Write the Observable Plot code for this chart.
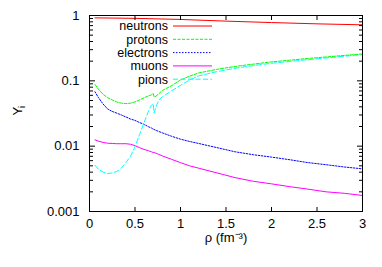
<!DOCTYPE html>
<html><head><meta charset="utf-8">
<script src="https://cdn.jsdelivr.net/npm/d3@7"></script>
<script src="https://cdn.jsdelivr.net/npm/@observablehq/plot@0.6"></script>
<style>body{margin:0;background:#fff;} #chart svg{display:block;}</style>
</head><body><div id="chart"></div>
<script>
// density grid (fm^-3)
const rho = [0.06,0.1,0.15,0.2,0.25,0.3,0.35,0.4,0.45,0.5,0.55,0.6,0.65,0.68,0.7,0.71,0.73,0.76,0.8,0.9,1.0,1.1,1.2,1.4,1.6,1.8,2.0,2.2,2.4,2.6,2.8,3.0];
const protons   = [0.088,0.074,0.062,0.055,0.051,0.0475,0.0455,0.0448,0.0455,0.0475,0.051,0.055,0.059,0.061,0.064,0.057,0.058,0.063,0.071,0.084,0.103,0.118,0.132,0.150,0.166,0.180,0.195,0.207,0.220,0.232,0.245,0.258];
const electrons = [0.068,0.055,0.044,0.037,0.034,0.032,0.030,0.028,0.026,0.0248,0.023,0.0215,0.0198,0.019,0.0182,0.018,0.0175,0.0168,0.016,0.0142,0.0128,0.0118,0.0110,0.0095,0.0082,0.0074,0.0068,0.0062,0.0056,0.0052,0.0048,0.0045];
const muons     = [0.0125,0.0119,0.0114,0.0111,0.0110,0.0109,0.0109,0.0109,0.0107,0.0102,0.0095,0.0089,0.0085,0.0082,0.0080,0.0080,0.0078,0.0075,0.0071,0.0063,0.0056,0.0050,0.0046,0.0039,0.0033,0.0029,0.00265,0.0024,0.0022,0.0020,0.0019,0.00176];
const pions     = [0.0051,0.0044,0.0040,0.0038,0.0039,0.0041,0.0046,0.0056,0.0070,0.0098,0.0150,0.023,0.035,0.042,0.045,0.032,0.040,0.050,0.057,0.070,0.085,0.103,0.119,0.138,0.156,0.171,0.186,0.198,0.211,0.224,0.238,0.252];
const rhoN = [0.06,0.5,1.0,1.5,2.0,2.5,3.0];
const neutrons = [0.92,0.905,0.87,0.82,0.78,0.745,0.72];

const seriesNames = ["neutrons","protons","electrons","muons","pions"];
const xTicks = [0,0.5,1,1.5,2,2.5,3];
const xTickLabels = ["0","0.5","1","1.5","2","2.5","3"];
const yTicks = [0.001,0.01,0.1,1];
const yTickLabels = ["0.001","0.01","0.1","1"];
const minorMult = [2,3,4,5,6,7,8,9];

const W = 382, H = 267, mL = 89, mR = 20, mT = 15, mB = 56;
const innerW = W - mL - mR, innerH = H - mT - mB;

const styles = {
  neutrons:  {color: "#ff0000", dash: null},
  protons:   {color: "#00ff00", dash: "3,1.5"},
  electrons: {color: "#0000ff", dash: "1.5,1.5"},
  muons:     {color: "#ff00ff", dash: null},
  pions:     {color: "#00ffff", dash: "5,2.5"}
};
const seriesData = {
  neutrons: rhoN.map((x, i) => ({x, y: neutrons[i]})),
  protons: rho.map((x, i) => ({x, y: protons[i]})),
  electrons: rho.map((x, i) => ({x, y: electrons[i]})),
  muons: rho.map((x, i) => ({x, y: muons[i]})),
  pions: rho.map((x, i) => ({x, y: pions[i]}))
};
const yMinor = yTicks.slice(0, -1).flatMap(d => minorMult.map(m => d * m));
const noText = () => "";

const lineOrder = ["muons","electrons","pions","protons","neutrons"];
const plot = Plot.plot({
  width: W, height: H,
  marginLeft: mL, marginRight: mR, marginTop: mT, marginBottom: mB,
  style: {fontFamily: "'Liberation Sans', Arial, sans-serif", fontSize: "13px", color: "#000", background: "#fff"},
  x: {domain: [0, 3]},
  y: {type: "log", domain: [0.001, 1]},
  marks: [
    ...lineOrder.map(n => Plot.line(seriesData[n], {x: "x", y: "y", stroke: styles[n].color, strokeWidth: 1, strokeDasharray: styles[n].dash || undefined})),
    // inward ticks: bottom & top
    Plot.axisX(xTicks, {anchor: "top", tickSize: 5, tickFormat: noText, label: null, dy: innerH, stroke: "#000"}),
    Plot.axisX(xTicks, {anchor: "bottom", tickSize: 5, tickFormat: noText, label: null, dy: -innerH, stroke: "#000"}),
    // inward ticks: left & right (major and minor)
    Plot.axisY(yTicks, {anchor: "right", tickSize: 5, tickFormat: noText, label: null, dx: -innerW, stroke: "#000"}),
    Plot.axisY(yMinor, {anchor: "right", tickSize: 3, tickFormat: noText, label: null, dx: -innerW, stroke: "#000"}),
    Plot.axisY(yTicks, {anchor: "left", tickSize: 5, tickFormat: noText, label: null, dx: innerW, stroke: "#000"}),
    Plot.axisY(yMinor, {anchor: "left", tickSize: 3, tickFormat: noText, label: null, dx: innerW, stroke: "#000"}),
    // tick labels
    Plot.axisX(xTicks, {anchor: "bottom", tickSize: 0, tickPadding: 7, tickFormat: d => xTickLabels[xTicks.indexOf(d)], label: null, fontSize: 13, fill: "#000"}),
    Plot.axisY(yTicks, {anchor: "left", tickSize: 0, tickPadding: 10, tickFormat: d => yTickLabels[yTicks.indexOf(d)], label: null, fontSize: 13, fill: "#000"}),
    Plot.frame({stroke: "#000", strokeWidth: 1}),
    // axis titles
    Plot.text(["ρ (fm⁻³)"], {frameAnchor: "bottom", dy: 30, fontSize: 13, fill: "#000"}),
    Plot.text(["Y"], {frameAnchor: "left", rotate: -90, dx: -72, dy: 2, fontSize: 13, fill: "#000"}),
    Plot.text(["i"], {frameAnchor: "left", rotate: -90, dx: -67, dy: -5.5, fontSize: 9, fill: "#000"})
  ]
});

// legend inside the frame, top-left
const svg = d3.select(plot);
const lg = svg.append("g").attr("font-family", "'Liberation Sans', Arial, sans-serif").attr("font-size", 12.5);
seriesNames.forEach((n, i) => {
  const yy = mT + 11 + i * 13.3;
  lg.append("text").attr("x", mL + 79).attr("y", yy).attr("dy", "0.35em").attr("text-anchor", "end").attr("fill", "#000").text(n);
  lg.append("line").attr("x1", mL + 84).attr("x2", mL + 123).attr("y1", yy).attr("y2", yy)
    .attr("stroke", styles[n].color).attr("stroke-width", 1).attr("stroke-dasharray", styles[n].dash || null);
});
document.getElementById("chart").appendChild(plot);
</script>
</body></html>
